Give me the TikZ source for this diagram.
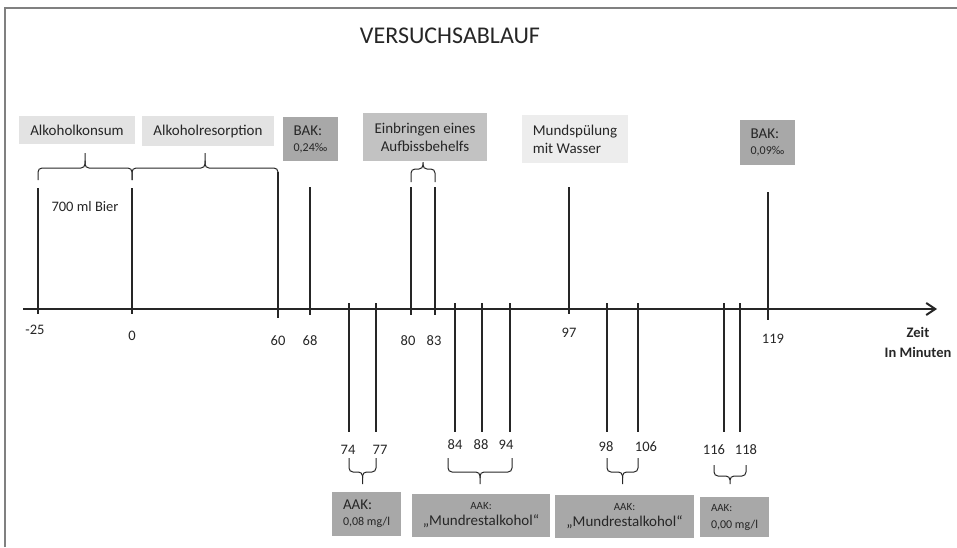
\documentclass[tikz,border=0pt]{standalone}
\usepackage{fontspec}
\setmainfont{Carlito}
\usetikzlibrary{arrows.meta}

\begin{document}
\begin{tikzpicture}[
	x=1pt,
	y=-1pt,
	achse/.style={line width=2pt, draw=black!85, -{Straight Barb[length=9pt,width=12pt]}},
	linie/.style={line width=1.3pt, draw=black!85},
	klammer/.style={line width=1pt, draw=black!85, rounded corners=4pt},
	zahl/.style={font=\fontsize{14.5}{17}\selectfont, text=black!85},
	kasten/.style={inner sep=0pt, font=\fontsize{15}{18}\selectfont, text=black!85},
	hell/.style={kasten, fill=black!11},
	mittel/.style={kasten, fill=black!24},
	dunkel/.style={kasten, fill=black!34}
]
\useasboundingbox (0,0) rectangle (957,547);
% Rahmen
\draw[line width=2pt, draw=black!50] (5,547) -- (5,8) -- (957,8);

\node[font=\fontsize{24}{28}\selectfont, text=black!85] (titel) at (450,36) {VERSUCHSABLAUF};

% Zeitachse
\coordinate (start) at (23,309);
\coordinate (ende) at (937,309);
\draw[achse] (start) -- (ende);
\node[zahl, font=\bfseries\fontsize{14.5}{20}\selectfont, align=center] (zeit) at (918,342) {Zeit\\In Minuten};

% obere Markierungen
\foreach \n/\t/\x/\o/\u/\lx/\ly in {
	m25/-25/38/188/314/35/330,
	p0/0/132/188/314/132/336,
	p60/60/278/172/318/278/341,
	p68/68/310/187/315/310/341,
	p80/80/411/187/315/408/341,
	p83/83/435/187/315/434/341,
	p97/97/569/187/314/569/333,
	p119/119/768/192/320/773/339}
{
	\coordinate (o\n) at (\x,\o);
	\coordinate (u\n) at (\x,\u);
	\draw[linie] (o\n) -- (u\n);
	\node[zahl] (z\n) at (\lx,\ly) {\t};
}

% untere Markierungen
\foreach \n/\x/\lx/\ly in {
	74/349/348/450,
	77/376/380/450,
	84/455/455/445,
	88/482/481/445,
	94/510/506/445,
	98/607/606/447,
	106/638/646/447,
	116/724/714/450,
	118/740/746/450}
{
	\coordinate (o\n) at (\x,303);
	\coordinate (u\n) at (\x,432);
	\draw[linie] (o\n) -- (u\n);
	\node[zahl] (z\n) at (\lx,\ly) {\n};
}

% Klammern
\foreach \a/\b/\y/\m/\s in {
	38/132/180/-12/-15,
	132/278/180/-12/-15,
	411/435/182/-13/-7,
	349/376/458/14/12,
	448/512/458/14/12,
	607/638/458/14/12,
	714/746/465/11/8}
{
	\draw[klammer] (\a,\y) |- ({(\a+\b)/2},\y+\m) -- ++(0,\s);
	\draw[klammer] (\b,\y) |- ({(\a+\b)/2},\y+\m) -- ++(0,\s/2);
}

% Kaesten oben
\node[hell, minimum width=116, minimum height=28] (konsum) at (77,130) {Alkoholkonsum};
\node[hell, minimum width=132, minimum height=30] (resorption) at (208,131) {Alkoholresorption};
\node[dunkel, minimum width=55, minimum height=44, align=left] (bak1) at (310.5,139)
	{BAK:\\[-2pt]{\fontsize{12}{14}\selectfont 0,24‰}};
\node[mittel, minimum width=124, minimum height=48, align=center] (aufbiss) at (425,137)
	{Einbringen eines\\Aufbissbehelfs};
\node[hell, fill=black!7, minimum width=106, minimum height=48, align=left] (spuelung) at (575,139)
	{Mundspülung\\mit Wasser};
\node[dunkel, minimum width=55, minimum height=45, align=left] (bak2) at (767.5,142.5)
	{BAK:\\[-2pt]{\fontsize{12}{14}\selectfont 0,09‰}};

\node[zahl] (bier) at (85,207) {700 ml Bier};

% Kaesten unten
\node[dunkel, minimum width=69, minimum height=44, align=left] (aak1) at (366.5,514)
	{AAK:\\[-2pt]{\fontsize{12}{14}\selectfont 0,08 mg/l}};
\node[dunkel, minimum width=138, minimum height=43, align=center] (aak2) at (481,515.5)
	{{\fontsize{11}{13}\selectfont AAK:}\\[-2pt]„Mundrestalkohol“};
\node[dunkel, minimum width=139, minimum height=43, align=center] (aak3) at (624.5,516.5)
	{{\fontsize{11}{13}\selectfont AAK:}\\[-2pt]„Mundrestalkohol“};
\node[dunkel, minimum width=69, minimum height=40, align=left] (aak4) at (734.5,517)
	{{\fontsize{11}{13}\selectfont AAK:}\\[-1pt]{\fontsize{12}{14}\selectfont 0,00 mg/l}};
\end{tikzpicture}
\end{document}
